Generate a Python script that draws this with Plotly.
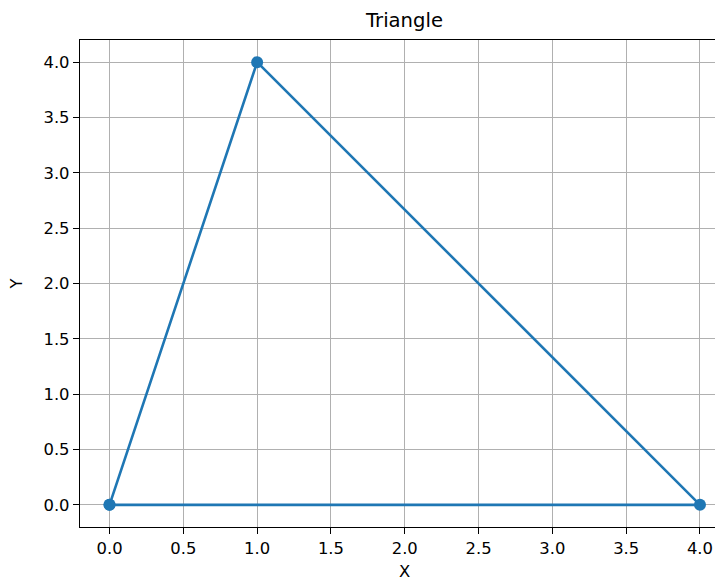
import plotly.graph_objects as go

x_vals = [0, 1, 4, 0]
y_vals = [0, 4, 0, 0]
title_text = "Triangle"
x_label = "X"
y_label = "Y"

# the page body has an 8px margin; compensate so the plot lands where the reference has it
OFF = 8
W, H = 723 - OFF, 581 - OFF
L, R, T, B = 80 - OFF, 0, 40 - OFF, 54

font_family = "DejaVu Sans"
tick_size = 16.4

fig = go.Figure()
fig.add_trace(go.Scatter(
    x=x_vals, y=y_vals, mode="lines+markers",
    line=dict(color="#1f77b4", width=2.6),
    marker=dict(color="#1f77b4", size=12),
    showlegend=False, cliponaxis=False,
))

axis_common = dict(
    showgrid=True, gridcolor="#b0b0b0", gridwidth=1.2,
    zeroline=False, showline=True, linecolor="black", linewidth=1.3,
    ticks="outside", ticklen=6, tickwidth=1.3, tickcolor="black",
    tickfont=dict(family=font_family, size=tick_size, color="black"),
    dtick=0.5, tick0=0, tickformat=".1f",
)

pw = W - L - R
ph = H - T - B

fig.update_layout(
    width=W, height=H,
    margin=dict(l=L, r=R, t=T, b=B, pad=0),
    paper_bgcolor="white", plot_bgcolor="white",
    font=dict(family=font_family, color="black"),
    xaxis=dict(range=[-0.2, 4.156], mirror=True, **axis_common),
    yaxis=dict(range=[-0.2, 4.2], mirror=False, **axis_common),
    title=dict(text=title_text, x=(404.5 - 80) / pw, xref="paper",
               xanchor="center", y=1 - (20 - OFF) / H, yref="container", yanchor="middle",
               font=dict(family=font_family, size=19.6, color="black")),
)

fig.add_annotation(text=x_label, xref="paper", yref="paper",
                   x=(404.5 - 80) / pw, y=-(571 - 527) / ph,
                   xanchor="center", yanchor="middle", showarrow=False,
                   font=dict(family=font_family, size=tick_size, color="black"))
fig.add_annotation(text=y_label, xref="paper", yref="paper",
                   x=-(80 - 16) / pw, y=0.5, textangle=-90,
                   xanchor="center", yanchor="middle", showarrow=False,
                   font=dict(family=font_family, size=tick_size, color="black"))

fig.write_html("out.html")
